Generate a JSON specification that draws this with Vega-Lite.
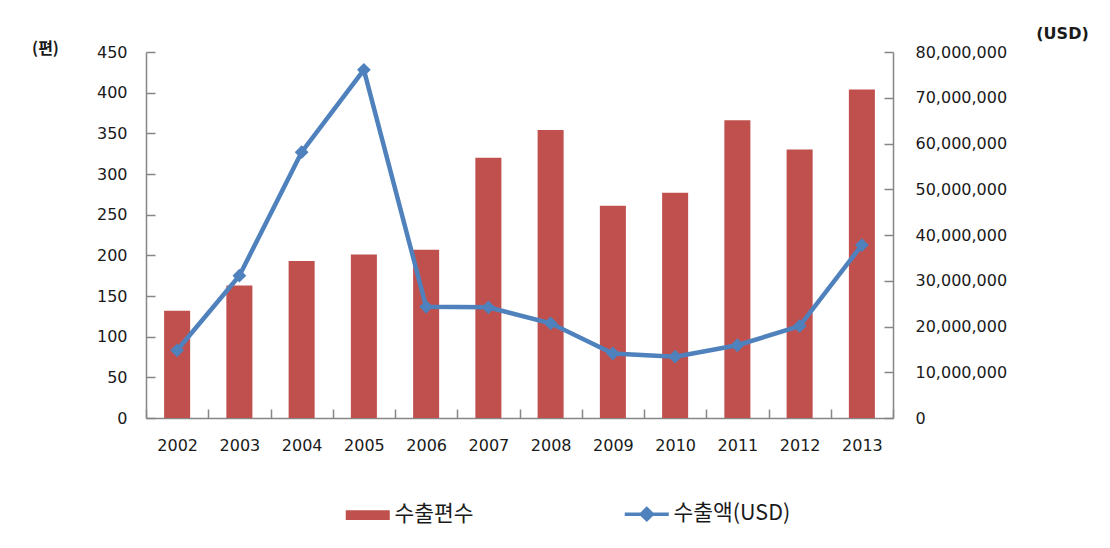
{
  "$schema": "https://vega.github.io/schema/vega-lite/v6.json",
  "width": 747,
  "height": 366,
  "autosize": {"type": "none"},
  "padding": {"left": 146, "top": 52, "right": 217, "bottom": 130},
  "background": "white",
  "config": {
    "view": {"stroke": null},
    "font": "DejaVu Sans",
    "axis": {
      "domainColor": "#868686",
      "tickColor": "#868686",
      "domainWidth": 1.5,
      "tickWidth": 1.5,
      "tickSize": -9,
      "grid": false,
      "labelFont": "DejaVu Sans",
      "labelFontSize": 16,
      "labelColor": "#1a1a1a",
      "titleFont": "DejaVu Sans",
      "titleColor": "#1a1a1a"
    }
  },
  "data": {
    "values": [
      {"year": "2002", "count": 132, "usd": 14800000},
      {"year": "2003", "count": 163, "usd": 31100000},
      {"year": "2004", "count": 193, "usd": 58100000},
      {"year": "2005", "count": 201, "usd": 76100000},
      {"year": "2006", "count": 207, "usd": 24300000},
      {"year": "2007", "count": 320, "usd": 24200000},
      {"year": "2008", "count": 354, "usd": 20700000},
      {"year": "2009", "count": 261, "usd": 14100000},
      {"year": "2010", "count": 277, "usd": 13400000},
      {"year": "2011", "count": 366, "usd": 15900000},
      {"year": "2012", "count": 330, "usd": 20100000},
      {"year": "2013", "count": 404, "usd": 37800000}
    ]
  },
  "encoding": {
    "x": {
      "field": "year",
      "type": "ordinal",
      "scale": {"paddingInner": 0, "paddingOuter": 0},
      "axis": {
        "title": null,
        "labelAngle": 0,
        "tickBand": "extent",
        "labelPadding": 28
      }
    }
  },
  "layer": [
    {
      "mark": {"type": "bar", "width": {"band": 0.418}},
      "encoding": {
        "y": {
          "field": "count",
          "type": "quantitative",
          "scale": {"domain": [0, 450]},
          "axis": {
            "title": "(편)",
            "titleAngle": 0,
            "titleX": -101,
            "titleY": -4,
            "titleAlign": "center",
            "titleBaseline": "middle",
            "titleFontSize": 16,
            "titleFontWeight": "bold",
            "titleFont": "Noto Sans CJK KR",
            "values": [0, 50, 100, 150, 200, 250, 300, 350, 400, 450],
            "labelPadding": 28
          }
        },
        "color": {
          "datum": "수출편수",
          "type": "nominal",
          "scale": {"domain": ["수출편수", "수출액(USD)"], "range": ["#C0504D", "#4F81BD"]},
          "legend": {
            "orient": "none",
            "legendX": 211,
            "legendY": 451,
            "direction": "horizontal",
            "title": null,
            "symbolSize": 1936,
            "labelFont": "Noto Sans CJK KR",
            "labelFontSize": 21.5,
            "labelColor": "#1a1a1a",
            "labelOffset": 16,
            "columnPadding": 143,
            "encode": {
              "symbols": {
                "update": {
                  "shape": {"signal": "datum.value === '수출편수' ? 'M-1,-0.22H1V0.22H-1Z' : 'M-1,0H1M0,-0.25L0.25,0L0,0.25L-0.25,0Z'"},
                  "fill": {"signal": "datum.value === '수출편수' ? '#C0504D' : '#4F81BD'"},
                  "stroke": {"signal": "datum.value === '수출편수' ? '#C0504D' : '#4F81BD'"},
                  "strokeWidth": {"signal": "datum.value === '수출편수' ? 0 : 3.5"},
                  "opacity": {"value": 1},
                  "fillOpacity": {"value": 1},
                  "strokeOpacity": {"value": 1}
                }
              }
            }
          }
        }
      }
    },
    {
      "mark": {
        "type": "line",
        "strokeWidth": 4.5,
        "point": {"shape": "diamond", "size": 190, "filled": true, "opacity": 1}
      },
      "encoding": {
        "y": {
          "field": "usd",
          "type": "quantitative",
          "scale": {"domain": [0, 80000000]},
          "axis": {
            "orient": "right",
            "title": "(USD)",
            "titleAngle": 0,
            "titleX": 169,
            "titleY": -19,
            "titleAlign": "center",
            "titleBaseline": "middle",
            "titleFontSize": 16,
            "titleFontWeight": "bold",
            "format": ",d",
            "values": [0, 10000000, 20000000, 30000000, 40000000, 50000000, 60000000, 70000000, 80000000],
            "labelPadding": 31
          }
        },
        "color": {"datum": "수출액(USD)", "type": "nominal"}
      }
    }
  ],
  "resolve": {"scale": {"y": "independent"}}
}
